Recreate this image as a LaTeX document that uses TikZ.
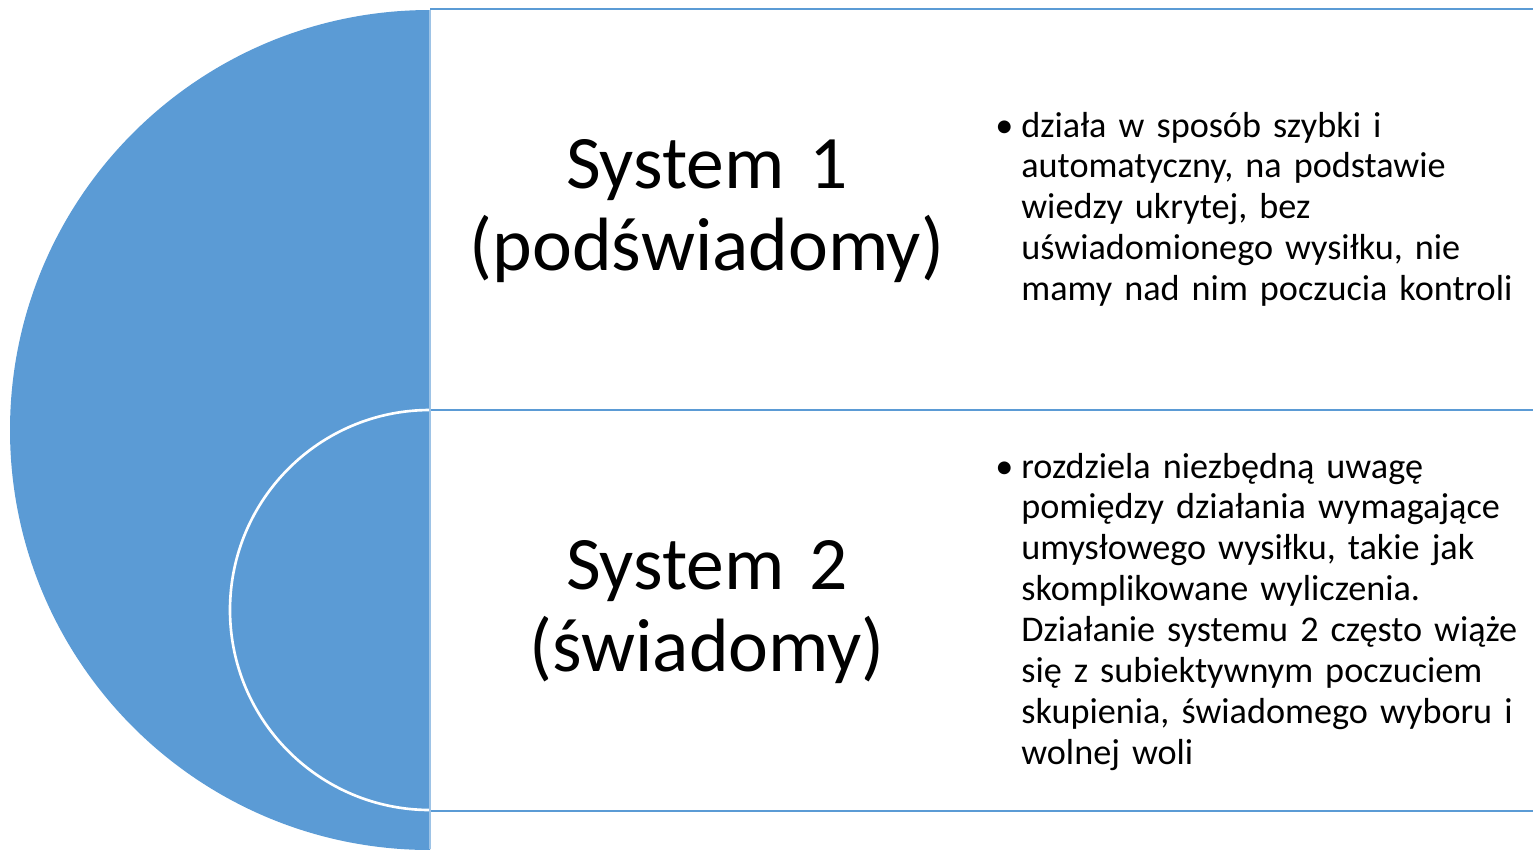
\documentclass[tikz,border=0pt]{standalone}
\usepackage{fontspec}
\setmainfont{Carlito}
\usepackage{tikz}
\usetikzlibrary{positioning,calc}
\definecolor{sysblue}{HTML}{5B9BD5}
\definecolor{syslight}{HTML}{9DC3E6}
\tikzset{
    % big half disk on the left
    bigdisk/.style = {fill=sysblue, draw=none},
    % inner half circle (white outline)
    innerarc/.style = {draw=white, line width=1.5pt},
    % lines between the rows
    rowline/.style = {draw=sysblue, line width=1.6pt},
    % vertical edge of the rows
    edgeline/.style = {draw=syslight, line width=1.2pt},
    % system title
    systitle/.style = {align=center, text width=11cm, inner sep=0, anchor=base, font=\fontsize{43}{46.7}\selectfont},
    % bullet text
    sysbullet/.style = {align=left, text width=10.4cm, inner sep=0, anchor=base west, font=\fontsize{20.6}{23.3}\selectfont}
  }

\begin{document}
\begin{tikzpicture}[x=0.02cm, y=-0.02cm]
\useasboundingbox (0,0) rectangle (1533,849);

\coordinate (O1) at (430,430);
\coordinate (O2) at (430,610);

% half disks
\begin{scope}
\clip (0,0) rectangle (430,849);
\fill [bigdisk] (O1) circle [radius=420];
\draw [innerarc] (O2) circle [radius=200];
\end{scope}

\foreach \y in {9,410,811}
  \draw [rowline] (430,\y) -- (1533,\y);
\draw [edgeline] (430,10) -- (430,849);

\foreach \i/\y/\name in {1/188/podświadomy,2/589/świadomy}
  \node [systitle] (T\i) at (707,\y) {System \i\\(\name)};

\node [sysbullet] (B1) at (1021,137) {\noindent\llap{•\kern4.5pt}działa w sposób szybki i\\
automatyczny, na podstawie\\
wiedzy ukrytej, bez\\
uświadomionego wysiłku, nie\\
mamy nad nim poczucia kontroli};

\node [sysbullet] (B2) at (1021,478) {\noindent\llap{•\kern4.5pt}rozdziela niezbędną uwagę\\
pomiędzy działania wymagające\\
umysłowego wysiłku, takie jak\\
skomplikowane wyliczenia.\\
Działanie systemu 2 często wiąże\\
się z subiektywnym poczuciem\\
skupienia, świadomego wyboru i\\
wolnej woli};

\end{tikzpicture}
\end{document}
